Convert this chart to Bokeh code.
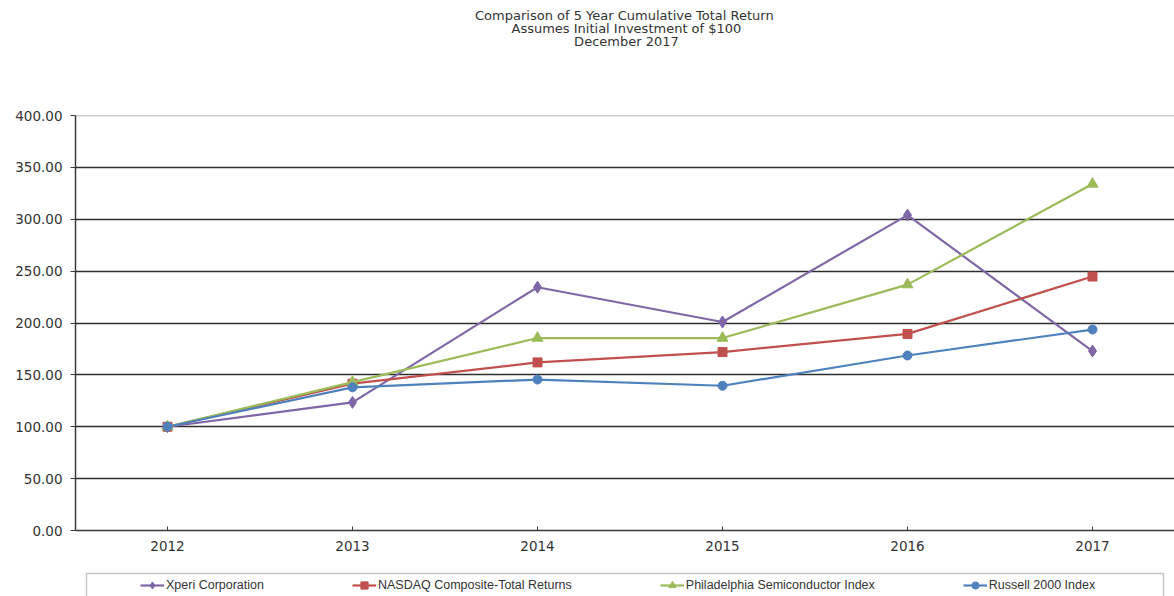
from bokeh.plotting import figure
from bokeh.layouts import column
from bokeh.models import (Label, Legend, LegendItem, FixedTicker, PrintfTickFormatter,
                          BoxAnnotation, Range1d, Span)
from bokeh.embed import file_html
from bokeh.resources import INLINE

years = [2012, 2013, 2014, 2015, 2016, 2017]
xperi = [100, 123.5, 234.5, 201.0, 304.0, 173.0]
nasdaq = [100, 141.5, 162.0, 172.0, 189.5, 244.8]
sox = [100, 143.0, 185.5, 185.5, 237.0, 334.0]
russell = [100, 138.0, 145.5, 139.5, 168.7, 193.7]
y_ticks = [0, 50, 100, 150, 200, 250, 300, 350, 400]
series_names = ["Xperi Corporation", "NASDAQ Composite-Total Returns",
                "Philadelphia Semiconductor Index", "Russell 2000 Index"]
title_lines = ["Comparison  of 5 Year Cumulative  Total Return",
               "Assumes Initial Investment  of $100",
               "December  2017"]

colors = ["#7F67A6", "#C0504D", "#9BBB59", "#4F81BD"]
markers = ["diamond", "square", "triangle", "circle"]
sizes = [12, 9, 11, 9]
data = [xperi, nasdaq, sox, russell]

TXT = "#333333"
TICK_FONT = "DejaVu Sans"
LEG_FONT = "Liberation Sans"
W = 1174
FRAME_LEFT = 75  # column aligns all frames to the main chart's frame


def blank_fig(h):
    f = figure(width=W, height=h, output_backend="svg", toolbar_location=None,
               x_range=Range1d(0, 1), y_range=Range1d(0, 1), min_border=0,
               x_axis_type=None, y_axis_type=None)
    f.outline_line_color = None
    f.grid.visible = False
    return f


# ---- title strip ----
tf = blank_fig(60)
for i, t in enumerate(title_lines):
    tf.add_layout(Label(x=628 - FRAME_LEFT, y=45 - 13 * i, x_units="screen", y_units="screen",
                        text=t, text_align="center", text_baseline="middle",
                        text_font="DejaVu Sans", text_font_size="13px", text_color=TXT))

# ---- main chart ----
p = figure(width=W, height=506, output_backend="svg", toolbar_location=None,
           x_range=Range1d(2011.5027, 2017.4432), y_range=Range1d(0, 400),
           min_border_left=FRAME_LEFT, min_border_top=55, min_border_bottom=36, min_border_right=0)
p.outline_line_color = None

p.xaxis.ticker = FixedTicker(ticks=years)
p.xaxis.major_tick_in = 4
p.xaxis.major_tick_out = 0
p.xaxis.minor_tick_line_color = None
p.xaxis.axis_line_color = "#3a3a3a"
p.xaxis.axis_line_width = 1.5
p.xaxis.major_tick_line_color = "#3a3a3a"
p.xaxis.major_label_text_font = TICK_FONT
p.xaxis.major_label_text_font_size = "13.5px"
p.xaxis.major_label_text_color = TXT
p.xaxis.major_label_standoff = 10

p.yaxis.ticker = FixedTicker(ticks=y_ticks)
p.yaxis.formatter = PrintfTickFormatter(format="%.2f")
p.yaxis.major_tick_in = 0
p.yaxis.major_tick_out = 5
p.yaxis.minor_tick_line_color = None
p.yaxis.axis_line_color = "#3a3a3a"
p.yaxis.axis_line_width = 1.5
p.yaxis.major_tick_line_color = "#3a3a3a"
p.yaxis.major_label_text_font = TICK_FONT
p.yaxis.major_label_text_font_size = "13.5px"
p.yaxis.major_label_text_color = TXT
p.yaxis.major_label_standoff = 8

p.xgrid.grid_line_color = None
p.ygrid.ticker = FixedTicker(ticks=y_ticks[1:-1])
p.ygrid.grid_line_color = "#2e2e2e"
p.ygrid.grid_line_width = 1.4
p.add_layout(Span(location=y_ticks[-1], dimension="width",
                  line_color="#9a9a9a", line_width=1.6))

for vals, c, m, s in zip(data, colors, markers, sizes):
    p.line(years, vals, line_color=c, line_width=2.2)
    p.scatter(years, vals, marker=m, size=s, fill_color=c, line_color=c)

# ---- legend strip (its own copies of the series lie outside its ranges) ----
lf = blank_fig(30)
items = []
for name, vals, c, m, s in zip(series_names, data, colors, markers, sizes):
    ln = lf.line(years, vals, line_color=c, line_width=2.2)
    sc = lf.scatter(years, vals, marker=m, size=s - 2, fill_color=c, line_color=c)
    items.append(LegendItem(label=name, renderers=[ln, sc], index=0))

lf.add_layout(BoxAnnotation(left=86 - FRAME_LEFT, right=1163 - FRAME_LEFT, top=23, bottom=-20,
                            left_units="screen", right_units="screen",
                            top_units="screen", bottom_units="screen",
                            fill_alpha=0, line_color="#3f3f3f", line_width=1.4))
legend = Legend(items=items, orientation="horizontal", location=(140 - FRAME_LEFT, 2),
                padding=0, margin=0, spacing=88, label_width=0,
                glyph_width=24, glyph_height=18, label_height=18, label_standoff=2,
                border_line_alpha=0, background_fill_alpha=0,
                label_text_font=LEG_FONT, label_text_font_size="12.5px",
                label_text_color=TXT)
lf.add_layout(legend, "center")

layout = column(tf, p, lf, spacing=0)
open("out.html", "w").write(file_html(layout, INLINE))
